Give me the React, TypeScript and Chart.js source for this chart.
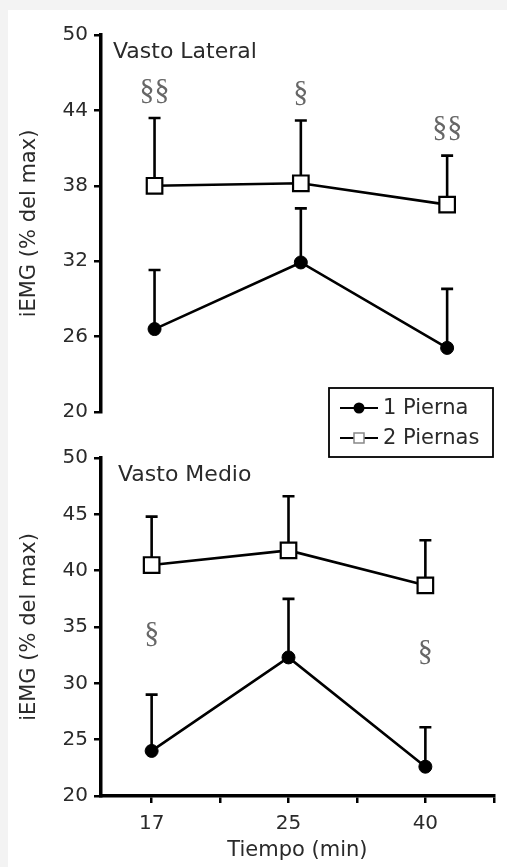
import React, { useEffect, useRef } from 'react';
import { Chart, registerables } from 'chart.js';

Chart.register(...registerables);

// ---------- data ----------
const timeLabels = ['17', '25', '40'];
const seriesNames = ['1 Pierna', '2 Piernas'];
const yTitle = 'iEMG (% del max)';
const xTitle = 'Tiempo (min)';

// Vasto Lateral (top panel)
const lateralName = 'Vasto Lateral';
const lateralOne = [26.6, 31.9, 25.1];
const lateralOneUpper = [31.3, 36.2, 29.8];
const lateralTwo = [38.0, 38.2, 36.5];
const lateralTwoUpper = [43.4, 43.2, 40.4];
const lateralTicks = [20, 26, 32, 38, 44, 50];
const lateralSig = ['§§', '§', '§§'];
const lateralSigY = [45.5, 45.4, 42.6];

// Vasto Medio (bottom panel)
const medioName = 'Vasto Medio';
const medioOne = [24.0, 32.3, 22.6];
const medioOneUpper = [29.0, 37.5, 26.1];
const medioTwo = [40.5, 41.8, 38.7];
const medioTwoUpper = [44.8, 46.6, 42.7];
const medioTicks = [20, 25, 30, 35, 40, 45, 50];
const medioSig = ['§', '', '§'];
const medioSigY = [34.4, 0, 32.8];

const xTickValues = [0, 0.5, 1, 1.5, 2, 2.5];

const FONT = 'DejaVu Sans';
const TEXT = '#2a2a2a';
const LW = 2.6;

type PanelCfg = {
  name: string;
  nameDx: number;
  one: number[];
  oneUpper: number[];
  two: number[];
  twoUpper: number[];
  ticks: number[];
  sig: string[];
  sigY: number[];
  xMin: number;
  xMax: number;
  showX: boolean;
  showLegend: boolean;
  padTop: number;
  padBottom: number;
  width: number;
  height: number;
};

const errorBarPlugin = {
  id: 'errorBars',
  beforeDatasetsDraw(chart: any) {
    const { ctx, scales } = chart;
    const xs = scales.x;
    const ys = scales.y;
    ctx.save();
    ctx.strokeStyle = '#000';
    ctx.lineWidth = LW;
    chart.data.datasets.forEach((ds: any) => {
      (ds.upper as number[]).forEach((u, j) => {
        const x = xs.getPixelForValue(j);
        const y0 = ys.getPixelForValue(ds.data[j].y);
        const y1 = ys.getPixelForValue(u);
        ctx.beginPath();
        ctx.moveTo(x, y0);
        ctx.lineTo(x, y1);
        ctx.moveTo(x - 6, y1);
        ctx.lineTo(x + 6, y1);
        ctx.stroke();
      });
    });
    ctx.restore();
  },
};

const annotPlugin = {
  id: 'annot',
  afterDatasetsDraw(chart: any, _args: any, opts: any) {
    const { ctx, scales, chartArea } = chart;
    const xs = scales.x;
    const ys = scales.y;
    ctx.save();
    // panel name
    ctx.fillStyle = TEXT;
    ctx.font = `22px "${FONT}"`;
    ctx.textAlign = 'left';
    ctx.textBaseline = 'middle';
    ctx.fillText(opts.name, chartArea.left + opts.nameDx, chartArea.top + 17);
    // significance marks
    ctx.fillStyle = '#666';
    ctx.font = `30px "Liberation Serif"`;
    ctx.textAlign = 'center';
    (opts.sig as string[]).forEach((s, j) => {
      if (!s) return;
      ctx.fillText(s, xs.getPixelForValue(j), ys.getPixelForValue(opts.sigY[j]));
    });
    // legend
    if (opts.showLegend) {
      const bx = chartArea.left + 228;
      const by = chartArea.bottom - 24;
      const bw = 164;
      const bh = 69;
      ctx.fillStyle = '#fff';
      ctx.fillRect(bx, by, bw, bh);
      ctx.strokeStyle = '#000';
      ctx.lineWidth = 1.8;
      ctx.strokeRect(bx, by, bw, bh);
      seriesNames.forEach((nm, i) => {
        const ly = by + 20 + i * 30;
        ctx.strokeStyle = '#000';
        ctx.lineWidth = 2;
        ctx.beginPath();
        ctx.moveTo(bx + 11, ly);
        ctx.lineTo(bx + 49, ly);
        ctx.stroke();
        const mx = bx + 30;
        if (i === 0) {
          ctx.fillStyle = '#000';
          ctx.beginPath();
          ctx.arc(mx, ly, 5.5, 0, Math.PI * 2);
          ctx.fill();
        } else {
          ctx.fillStyle = '#fff';
          ctx.fillRect(mx - 5, ly - 5, 10, 10);
          ctx.strokeStyle = '#888';
          ctx.lineWidth = 1.5;
          ctx.strokeRect(mx - 5, ly - 5, 10, 10);
        }
        ctx.fillStyle = TEXT;
        ctx.font = `21px "${FONT}"`;
        ctx.textAlign = 'left';
        ctx.textBaseline = 'middle';
        ctx.fillText(nm, bx + 54, ly + 1);
      });
    }
    ctx.restore();
  },
};

function Panel({ cfg, top }: { cfg: PanelCfg; top: number }) {
  const ref = useRef<HTMLCanvasElement | null>(null);
  useEffect(() => {
    if (!ref.current) return;
    const step = cfg.ticks[1] - cfg.ticks[0];
    const chart = new Chart(ref.current, {
      type: 'line',
      data: {
        datasets: [
          {
            label: seriesNames[0],
            data: cfg.one.map((v, i) => ({ x: i, y: v })),
            upper: cfg.oneUpper,
            borderColor: '#000',
            borderWidth: LW,
            pointStyle: 'circle',
            pointRadius: 6.5,
            pointBorderWidth: 1,
            pointBackgroundColor: '#000',
            pointBorderColor: '#000',
            tension: 0,
          } as any,
          {
            label: seriesNames[1],
            data: cfg.two.map((v, i) => ({ x: i, y: v })),
            upper: cfg.twoUpper,
            borderColor: '#000',
            borderWidth: LW,
            pointStyle: 'rect',
            pointRadius: 11,
            pointBorderWidth: 2.2,
            pointBackgroundColor: '#fff',
            pointBorderColor: '#000',
            tension: 0,
          } as any,
        ],
      },
      options: {
        animation: false,
        responsive: false,
        maintainAspectRatio: false,
        devicePixelRatio: 1,
        layout: { padding: { top: cfg.padTop, bottom: cfg.padBottom, left: 0, right: 10 } },
        plugins: {
          legend: { display: false },
          tooltip: { enabled: false },
          annot: {
            name: cfg.name,
            nameDx: cfg.nameDx,
            sig: cfg.sig,
            sigY: cfg.sigY,
            showLegend: cfg.showLegend,
          },
        } as any,
        scales: {
          x: {
            type: 'linear',
            display: cfg.showX,
            min: cfg.xMin,
            max: cfg.xMax,
            afterBuildTicks: (scale: any) => {
              scale.ticks = xTickValues.map((v) => ({ value: v }));
            },
            afterFit: (scale: any) => {
              if (cfg.showX) scale.height = 71;
            },
            grid: {
              display: true,
              drawOnChartArea: false,
              drawTicks: true,
              tickLength: 7,
              lineWidth: 2.5,
              color: '#000',
            },
            border: { display: true, width: 3.5, color: '#000' },
            ticks: {
              autoSkip: false,
              maxRotation: 0,
              padding: 9,
              color: TEXT,
              font: { family: FONT, size: 20 },
              callback: (v: any) => (Number.isInteger(v) ? timeLabels[v] : ''),
            },
            title: {
              display: true,
              text: xTitle,
              color: TEXT,
              font: { family: FONT, size: 21 },
              padding: { top: 0, bottom: 4 },
            },
          } as any,
          y: {
            type: 'linear',
            min: cfg.ticks[0],
            max: cfg.ticks[cfg.ticks.length - 1],
            afterFit: (scale: any) => {
              scale.width = 93;
            },
            afterBuildTicks: (scale: any) => {
              scale.ticks = cfg.ticks.map((v) => ({ value: v }));
            },
            grid: {
              display: true,
              drawOnChartArea: false,
              drawTicks: true,
              tickLength: 7,
              lineWidth: 2.5,
              color: '#000',
            },
            border: { display: true, width: 3.5, color: '#000' },
            ticks: {
              stepSize: step,
              padding: 6,
              color: TEXT,
              font: { family: FONT, size: 20 },
            },
            title: {
              display: true,
              text: yTitle,
              color: TEXT,
              font: { family: FONT, size: 21 },
              padding: { top: 9, bottom: 0 },
            },
          } as any,
        },
      },
      plugins: [errorBarPlugin, annotPlugin],
    });
    return () => chart.destroy();
  }, [cfg]);
  return (
    <canvas
      ref={ref}
      width={cfg.width}
      height={cfg.height}
      style={{ position: 'absolute', left: 0, top, width: cfg.width, height: cfg.height }}
    />
  );
}

const topCfg: PanelCfg = {
  name: lateralName,
  nameDx: 12,
  one: lateralOne,
  oneUpper: lateralOneUpper,
  two: lateralTwo,
  twoUpper: lateralTwoUpper,
  ticks: lateralTicks,
  sig: lateralSig,
  sigY: lateralSigY,
  xMin: -0.366,
  xMax: 2.319,
  showX: false,
  showLegend: true,
  padTop: 25,
  padBottom: 53,
  width: 499,
  height: 455,
};

const bottomCfg: PanelCfg = {
  name: medioName,
  nameDx: 17,
  one: medioOne,
  oneUpper: medioOneUpper,
  two: medioTwo,
  twoUpper: medioTwoUpper,
  ticks: medioTicks,
  sig: medioSig,
  sigY: medioSigY,
  xMin: -0.37,
  xMax: 2.5,
  showX: true,
  showLegend: false,
  padTop: 15,
  padBottom: 0,
  width: 499,
  height: 427,
};

export default function App() {
  useEffect(() => {
    document.body.style.background = '#f3f3f3';
    document.body.style.margin = '0';
  }, []);
  return (
    <div
      style={{
        position: 'fixed',
        left: 8,
        top: 10,
        width: 499,
        height: 857,
        background: '#ffffff',
        overflow: 'hidden',
      }}
    >
      <Panel cfg={bottomCfg} top={430} />
      <Panel cfg={topCfg} top={0} />
    </div>
  );
}
